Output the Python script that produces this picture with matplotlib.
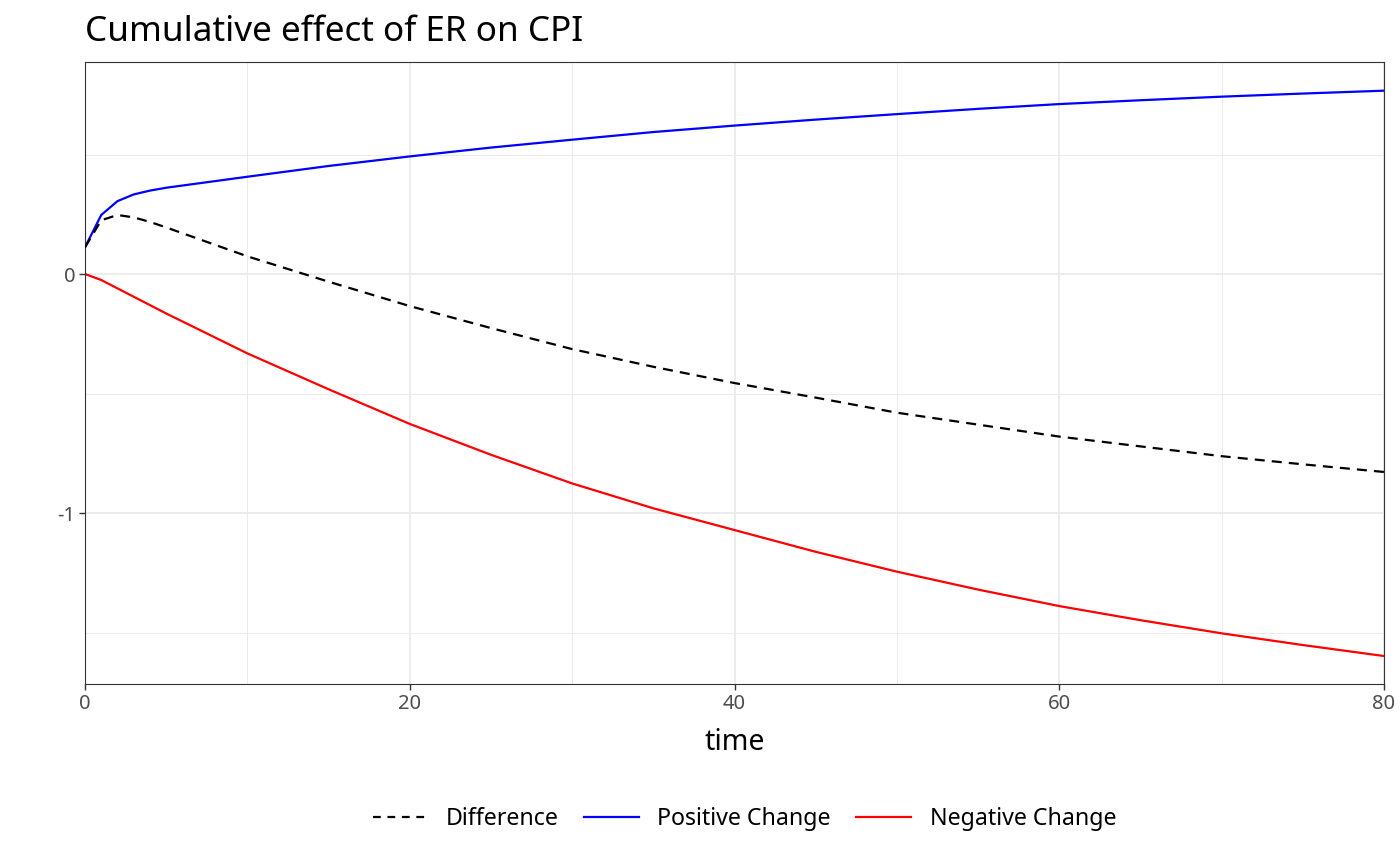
import matplotlib
matplotlib.use("Agg")
import matplotlib.pyplot as plt
from matplotlib.lines import Line2D

plt.rcParams['font.family'] = ['Noto Sans', 'DejaVu Sans']

time = [0, 1, 2, 3, 4, 5, 10, 15, 20, 25, 30, 35, 40, 45, 50, 55, 60, 65, 70, 75, 80]
positive = [0.112, 0.247, 0.305, 0.333, 0.349, 0.361, 0.407, 0.452, 0.492, 0.529, 0.562,
            0.594, 0.621, 0.646, 0.669, 0.691, 0.711, 0.727, 0.742, 0.755, 0.767]
negative = [0.0, -0.025, -0.060, -0.095, -0.130, -0.165, -0.332, -0.482, -0.627, -0.756, -0.876,
            -0.980, -1.071, -1.162, -1.245, -1.320, -1.389, -1.448, -1.503, -1.552, -1.598]
difference = [0.112, 0.225, 0.247, 0.237, 0.218, 0.195, 0.074, -0.032, -0.134, -0.226, -0.314,
              -0.388, -0.456, -0.517, -0.580, -0.630, -0.680, -0.721, -0.762, -0.796, -0.828]

x_ticks = [0, 20, 40, 60, 80]
x_minor = [10, 30, 50, 70]
y_ticks = [-1, 0]
y_minor = [-1.5, -0.5, 0.5]

fig = plt.figure(figsize=(14, 8.65), dpi=100)
ax = fig.add_axes([85/1400, 1-684/865, (1384-85)/1400, (684-62)/865])

for v in x_ticks:
    ax.axvline(v, color='#EBEBEB', lw=1.3, zorder=0)
for v in x_minor:
    ax.axvline(v, color='#EBEBEB', lw=0.7, zorder=0)
for v in y_ticks:
    ax.axhline(v, color='#EBEBEB', lw=1.3, zorder=0)
for v in y_minor:
    ax.axhline(v, color='#EBEBEB', lw=0.7, zorder=0)

dash = (0, (4.5, 3.2))
ax.plot(time, difference, color='black', lw=1.6, ls=dash, zorder=3)
ax.plot(time, positive, color='#0000FF', lw=1.6, zorder=2)
ax.plot(time, negative, color='#FF0000', lw=1.6, zorder=2)

ax.set_xlim(0, 80)
ax.set_ylim(-1.715, 0.887)
ax.set_xticks(x_ticks)
ax.set_xticklabels([str(v) for v in x_ticks])
ax.set_yticks(y_ticks)
ax.set_yticklabels([str(v) for v in y_ticks])
ax.tick_params(axis='both', which='major', length=4, width=1.0, color='#333333',
               labelsize=14.5, labelcolor='#4D4D4D', pad=3)
for s in ax.spines.values():
    s.set_color('#333333')
    s.set_linewidth(0.8)

ax.set_xlabel('time', fontsize=20.5, color='black', labelpad=10)
ax.set_title('Cumulative effect of ER on CPI', fontsize=25.3, loc='left', pad=15, color='black')

handles = [Line2D([0], [0], color='black', lw=1.6, ls=(0, (3.5, 3.0))),
           Line2D([0], [0], color='#0000FF', lw=1.6),
           Line2D([0], [0], color='#FF0000', lw=1.6)]
labels = ['Difference', 'Positive Change', 'Negative Change']
fig.legend(handles, labels, loc='center', bbox_to_anchor=(744.5/1400, 1-819/865), ncol=3,
           frameon=False, fontsize=16.7, handlelength=2.35, columnspacing=1.1, handletextpad=0.8)

fig.savefig('out.png', dpi=100, facecolor='white')
